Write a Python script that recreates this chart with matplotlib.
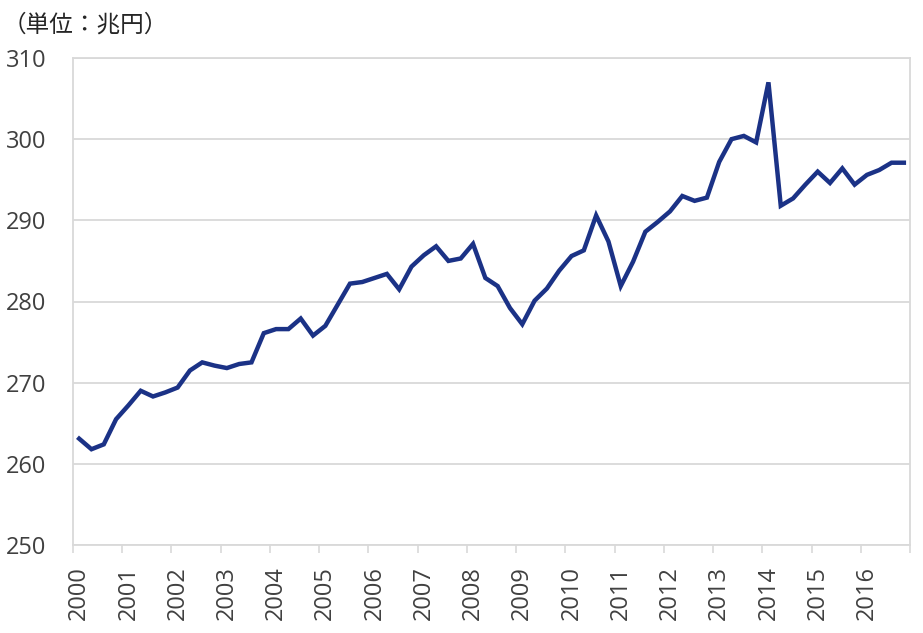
import numpy as np
import matplotlib.pyplot as plt
from matplotlib.ticker import FixedLocator

# quarterly values, 2000Q1 .. 2016Q4 (trillion yen)
values = [263.1, 261.8, 262.4, 265.5, 267.2, 269.0, 268.3, 268.8,
          269.4, 271.5, 272.5, 272.1, 271.8, 272.3, 272.5, 276.1,
          276.6, 276.6, 277.9, 275.8, 277.0, 279.6, 282.2, 282.4,
          282.9, 283.4, 281.5, 284.3, 285.7, 286.8, 285.0, 285.3,
          287.1, 282.9, 281.9, 279.2, 277.2, 280.1, 281.6, 283.8,
          285.6, 286.3, 290.6, 287.4, 281.9, 284.9, 288.6, 289.8,
          291.1, 293.0, 292.4, 292.8, 297.2, 300.0, 300.4, 299.6,
          307.0, 291.8, 292.7, 294.4, 296.0, 294.6, 296.4, 294.4,
          295.6, 296.2, 297.1, 297.1]
years = [str(y) for y in range(2000, 2017)]
y_ticks = [250, 260, 270, 280, 290, 300, 310]

plt.rcParams['font.family'] = ['Open Sans', 'Noto Sans CJK JP', 'DejaVu Sans']
txt = '#404040'
grid = '#d9d9d9'

fig = plt.figure(figsize=(9.23, 6.33), dpi=100)
ax = fig.add_axes([73/923, 88/633, 837/923, 487/633])

x = np.arange(len(values)) + 0.5
ax.plot(x, values, color='#1b3286', lw=3.2, solid_joinstyle='miter', zorder=3)

ax.set_xlim(0, len(values))
ax.set_ylim(250, 310)
ax.set_yticks(y_ticks)
ax.grid(axis='y', color=grid, lw=1.3)
ax.tick_params(axis='y', length=0, pad=19, labelsize=17, labelcolor=txt)

ax.set_xticks(np.arange(len(years)) * 4 + 0.5)
ax.set_xticklabels(years, rotation=90)
ax.tick_params(axis='x', which='major', length=0, pad=15, labelsize=17, labelcolor=txt)
ax.xaxis.set_minor_locator(FixedLocator(np.arange(len(years) + 1) * 4))
ax.tick_params(axis='x', which='minor', length=6, width=1.2, color=grid)

for s in ['left', 'right', 'bottom', 'top']:
    ax.spines[s].set_color(grid)
    ax.spines[s].set_linewidth(1.3)

fig.text(0.003, 0.96, '（単位：兆円）', fontsize=17, color='#262626',
         family=['Noto Sans CJK JP'], va='center', ha='left')

fig.savefig('out.png', dpi=100)
